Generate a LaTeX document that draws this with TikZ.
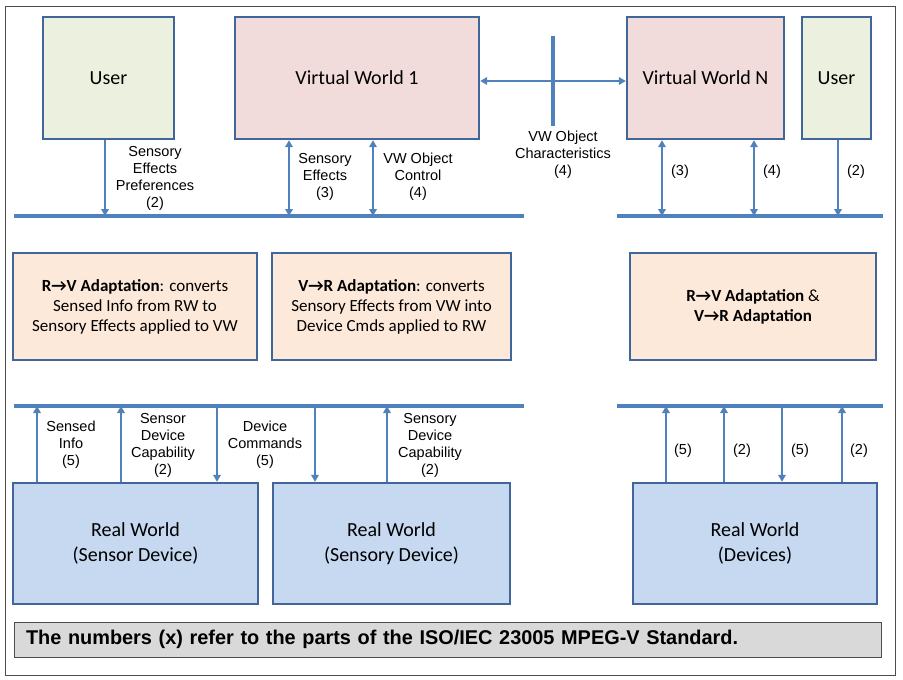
\documentclass[tikz,border=0pt]{standalone}
\usepackage{fontspec}
\setmainfont{Carlito}
\newfontfamily\labelfont{Liberation Sans}
\usepackage{xcolor}
\usepackage{tikz}
\usetikzlibrary{positioning,calc,arrows.meta}
\definecolor{boxedge}{HTML}{41679A}
\definecolor{linkblue}{HTML}{4F81BD}
\definecolor{userfill}{HTML}{EBF1DE}
\definecolor{vwfill}{HTML}{F2DCDB}
\definecolor{adaptfill}{HTML}{FDE9D9}
\definecolor{rwfill}{HTML}{C6D9F1}
\definecolor{notefill}{HTML}{D9D9D9}
\definecolor{frameline}{HTML}{4D4D4D}

\begin{document}
\begin{tikzpicture}[x=1pt, y=-1pt, block/.style={draw=boxedge, line width=2.4pt, minimum height=122pt, inner sep=2pt, align=center, font=\fontsize{20}{25}\selectfont}, adapt/.style={block, fill=adaptfill, minimum height=107pt, font=\fontsize{17}{20}\selectfont}, tag/.style={align=center, inner sep=0pt, font=\labelfont\fontsize{14.5}{17}\selectfont}, busline/.style={draw=linkblue, line width=3.5pt}, downarrow/.style={-{Triangle[length=7pt,width=7.5pt]}, draw=linkblue, line width=2.3pt}, twoway/.style={{Triangle[length=7pt,width=7.5pt]}-{Triangle[length=7pt,width=7.5pt]}, draw=linkblue, line width=2.3pt}]
\path[fill=white] (0,0) rectangle (903,680);
\useasboundingbox (0,0) rectangle (903,680);
\draw[frameline, line width=1pt] (5,6) rectangle (895,675);
% top row
\node[block, fill=userfill, minimum width=131pt] (user1) at (108.5,78) {User};
\node[block, fill=vwfill, minimum width=244pt] (vw1) at (357,78) {Virtual World 1};
\node[block, fill=vwfill, minimum width=157pt] (vwN) at (705.5,78) {Virtual World N};
\node[block, fill=userfill, minimum width=69pt] (user2) at (836.5,78) {User};
\coordinate (busTL) at (14,216);
\coordinate (busTM) at (524,216);
\coordinate (busTR) at (617,216);
\coordinate (busTRe) at (883,216);
\draw[busline] (busTL) -- (busTM);
\draw[busline] (busTR) -- (busTRe);
\draw[downarrow] ([xshift=-3.5pt]user1.south) -- ([xshift=-3.5pt]user1.south |- busTL);
\draw[twoway] ([xshift=-68pt]vw1.south) -- ([xshift=-68pt]vw1.south |- busTL);
\draw[twoway] ([xshift=16pt]vw1.south) -- ([xshift=16pt]vw1.south |- busTL);
\draw[twoway] ([xshift=-43.5pt]vwN.south) -- ([xshift=-43.5pt]vwN.south |- busTR);
\draw[twoway] ([xshift=48.5pt]vwN.south) -- ([xshift=48.5pt]vwN.south |- busTR);
\draw[downarrow] ([xshift=1.5pt]user2.south) -- ([xshift=1.5pt]user2.south |- busTR);
\draw[twoway] ([yshift=-3pt]vw1.east) -- ([yshift=-3pt]vwN.west);
\coordinate (crossT) at (553,36);
\coordinate (crossB) at (553,126);
\draw[busline] (crossT) -- (crossB);
\node[tag] (prefs) at (155,178.5) {Sensory\\Effects\\Preferences\\(2)};
\node[tag] (effects) at (325,177) {Sensory\\Effects\\(3)};
\node[tag] (control) at (418,177) {VW Object\\Control\\(4)};
\node[tag] (chars) at (563,154.5) {VW Object\\Characteristics\\(4)};
\node[tag] (effectsN) at (680,172) {(3)};
\node[tag] (controlN) at (772,172) {(4)};
\node[tag] (prefsN) at (856,172) {(2)};
% adaptation engines
\node[adapt, minimum width=244pt] (rv) at (135,306.5) {\textbf{R→V Adaptation}: converts\\Sensed Info from RW to\\Sensory Effects applied to VW};
\node[adapt, minimum width=239pt] (vr) at (391.5,306.5) {\textbf{V→R Adaptation}: converts\\Sensory Effects from VW into\\Device Cmds applied to RW};
\node[adapt, minimum width=246pt] (both) at (753,306.5) {\textbf{R→V Adaptation} \&\\\textbf{V→R Adaptation}};
% bottom row
\coordinate (busBL) at (14,406);
\coordinate (busBM) at (524,406);
\coordinate (busBR) at (617,406);
\coordinate (busBRe) at (883,406);
\draw[busline] (busBL) -- (busBM);
\draw[busline] (busBR) -- (busBRe);
\node[block, fill=rwfill, minimum width=245pt, minimum height=121pt] (rw1) at (135.5,543.5) {Real World\\(Sensor Device)};
\node[block, fill=rwfill, minimum width=237pt, minimum height=121pt] (rw2) at (391.5,543.5) {Real World\\(Sensory Device)};
\node[block, fill=rwfill, minimum width=244pt, minimum height=121pt] (rw3) at (755,543.5) {Real World\\(Devices)};
\draw[downarrow] ([xshift=-98.5pt]rw1.north) -- ([xshift=-98.5pt]rw1.north |- busBL);
\draw[downarrow] ([xshift=-14.5pt]rw1.north) -- ([xshift=-14.5pt]rw1.north |- busBL);
\draw[downarrow] ([xshift=81.5pt]rw1.north |- busBL) -- ([xshift=81.5pt]rw1.north);
\draw[downarrow] ([xshift=-76.5pt]rw2.north |- busBL) -- ([xshift=-76.5pt]rw2.north);
\draw[downarrow] ([xshift=-4.5pt]rw2.north) -- ([xshift=-4.5pt]rw2.north |- busBL);
\draw[downarrow] ([xshift=-89pt]rw3.north) -- ([xshift=-89pt]rw3.north |- busBR);
\draw[downarrow] ([xshift=-31pt]rw3.north) -- ([xshift=-31pt]rw3.north |- busBR);
\draw[downarrow] ([xshift=27pt]rw3.north |- busBR) -- ([xshift=27pt]rw3.north);
\draw[downarrow] ([xshift=87pt]rw3.north) -- ([xshift=87pt]rw3.north |- busBR);
\node[tag] (sensed) at (71,444.5) {Sensed\\Info\\(5)};
\node[tag] (sensorcap) at (163,445) {Sensor\\Device\\Capability\\(2)};
\node[tag] (commands) at (265,444.5) {Device\\Commands\\(5)};
\node[tag] (sensorycap) at (430,445) {Sensory\\Device\\Capability\\(2)};
\node[tag] (sensedN) at (683,451) {(5)};
\node[tag] (sensorcapN) at (742,451) {(2)};
\node[tag] (commandsN) at (800,451) {(5)};
\node[tag] (sensorycapN) at (859,451) {(2)};
\node[draw=frameline, line width=1pt, fill=notefill, minimum height=35pt, text width=843pt, inner xsep=12pt, align=left, font=\labelfont\bfseries\fontsize{19.9}{24}\selectfont] (note) at (447.5,639.5) {The numbers (x) refer to the parts of the ISO/IEC 23005 MPEG-V Standard.};
\end{tikzpicture}
\end{document}
